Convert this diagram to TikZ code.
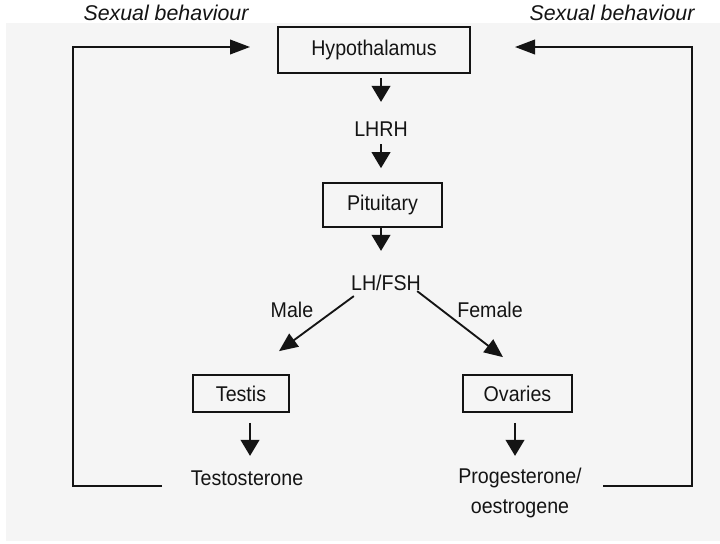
\documentclass[tikz,border=0pt]{standalone}
\usepackage{fontspec}
\setmainfont{Liberation Sans}
\newfontfamily\narrowfont{Liberation Sans}[FakeStretch=0.92]
\usetikzlibrary{arrows.meta,calc}
\definecolor{bggrey}{HTML}{F5F5F5}
\definecolor{ink}{HTML}{141414}
\begin{document}
\begin{tikzpicture}[x=0.75pt,y=-0.75pt,
  every node/.style={font=\narrowfont\fontsize{16}{19}\selectfont, text=ink},
  box/.style={draw=ink, line width=1.3pt, inner sep=0pt},
  lbl/.style={inner sep=0pt},
  arr/.style={draw=ink, line width=1.4pt, -{Triangle[length=12pt,width=14pt]}},
  darr/.style={draw=ink, line width=1.4pt, -{Triangle[length=14pt,width=12pt]}},
  fb/.style={draw=ink, line width=1.3pt, -{Triangle[length=15pt,width=11pt]}},
  head/.style={inner sep=0pt, font=\fontsize{16}{19}\selectfont\itshape}]
\useasboundingbox (0,0) rectangle (720,543);
\fill[white] (0,0) rectangle (720,543);
\fill[bggrey] (6,23) rectangle (720,541);

% header labels
\node[head] (sbl) at (166,13) {Sexual behaviour};
\node[head] (sbr) at (612,13) {Sexual behaviour};

% boxes
\node[box, minimum width=144pt, minimum height=34.5pt] (hyp) at (374,50) {Hypothalamus};
\node[box, minimum width=89.25pt, minimum height=33pt] (pit) at (382.5,205) {Pituitary};
\node[box, minimum width=72pt, minimum height=27.75pt] (testis) at (241,393.5) {Testis};
\node[box, minimum width=81.75pt, minimum height=27.75pt] (ovaries) at (517.5,393.5) {Ovaries};

% text labels
\node[lbl] (lhrh) at (381,129) {LHRH};
\node[lbl] (lhfsh) at (386,283) {LH/FSH};
\node[lbl] (male) at (292,310) {Male};
\node[lbl] (female) at (490,310) {Female};
\node[lbl] (testo) at (247,478) {Testosterone};
\node[lbl, align=center, font=\narrowfont\fontsize{16}{22}\selectfont] (proge) at (520,493) {Progesterone/\\oestrogene};

% main chain
\draw[arr] (hyp.south -| lhrh) ++(0,4) -- ++(0,24);
\draw[arr] (pit.north -| lhrh) ++(0,-38) -- ++(0,24);
\draw[arr] (pit.south -| lhrh) -- ++(0,23);
\draw[darr] ($(lhfsh.south west)+(3,5)$) -- ($(testis.north)+(38,-23)$);
\draw[darr] ($(lhfsh.south east)+(-4,0)$) -- ($(ovaries.north)+(-14.5,-17)$);
\draw[arr] ($(testis.south)+(9,10)$) -- ++(0,33);
\draw[arr] ($(ovaries.south)+(-2.5,10)$) -- ++(0,33);

% feedback loops
\coordinate (lstart) at (162,486);
\coordinate (ltip) at (250,47);
\coordinate (rstart) at (603,486);
\coordinate (rtip) at (515,47);
\draw[fb] (lstart) -- ++(-89,0) |- (ltip);
\draw[fb] (rstart) -- ++(89,0) |- (rtip);
\end{tikzpicture}
\end{document}
